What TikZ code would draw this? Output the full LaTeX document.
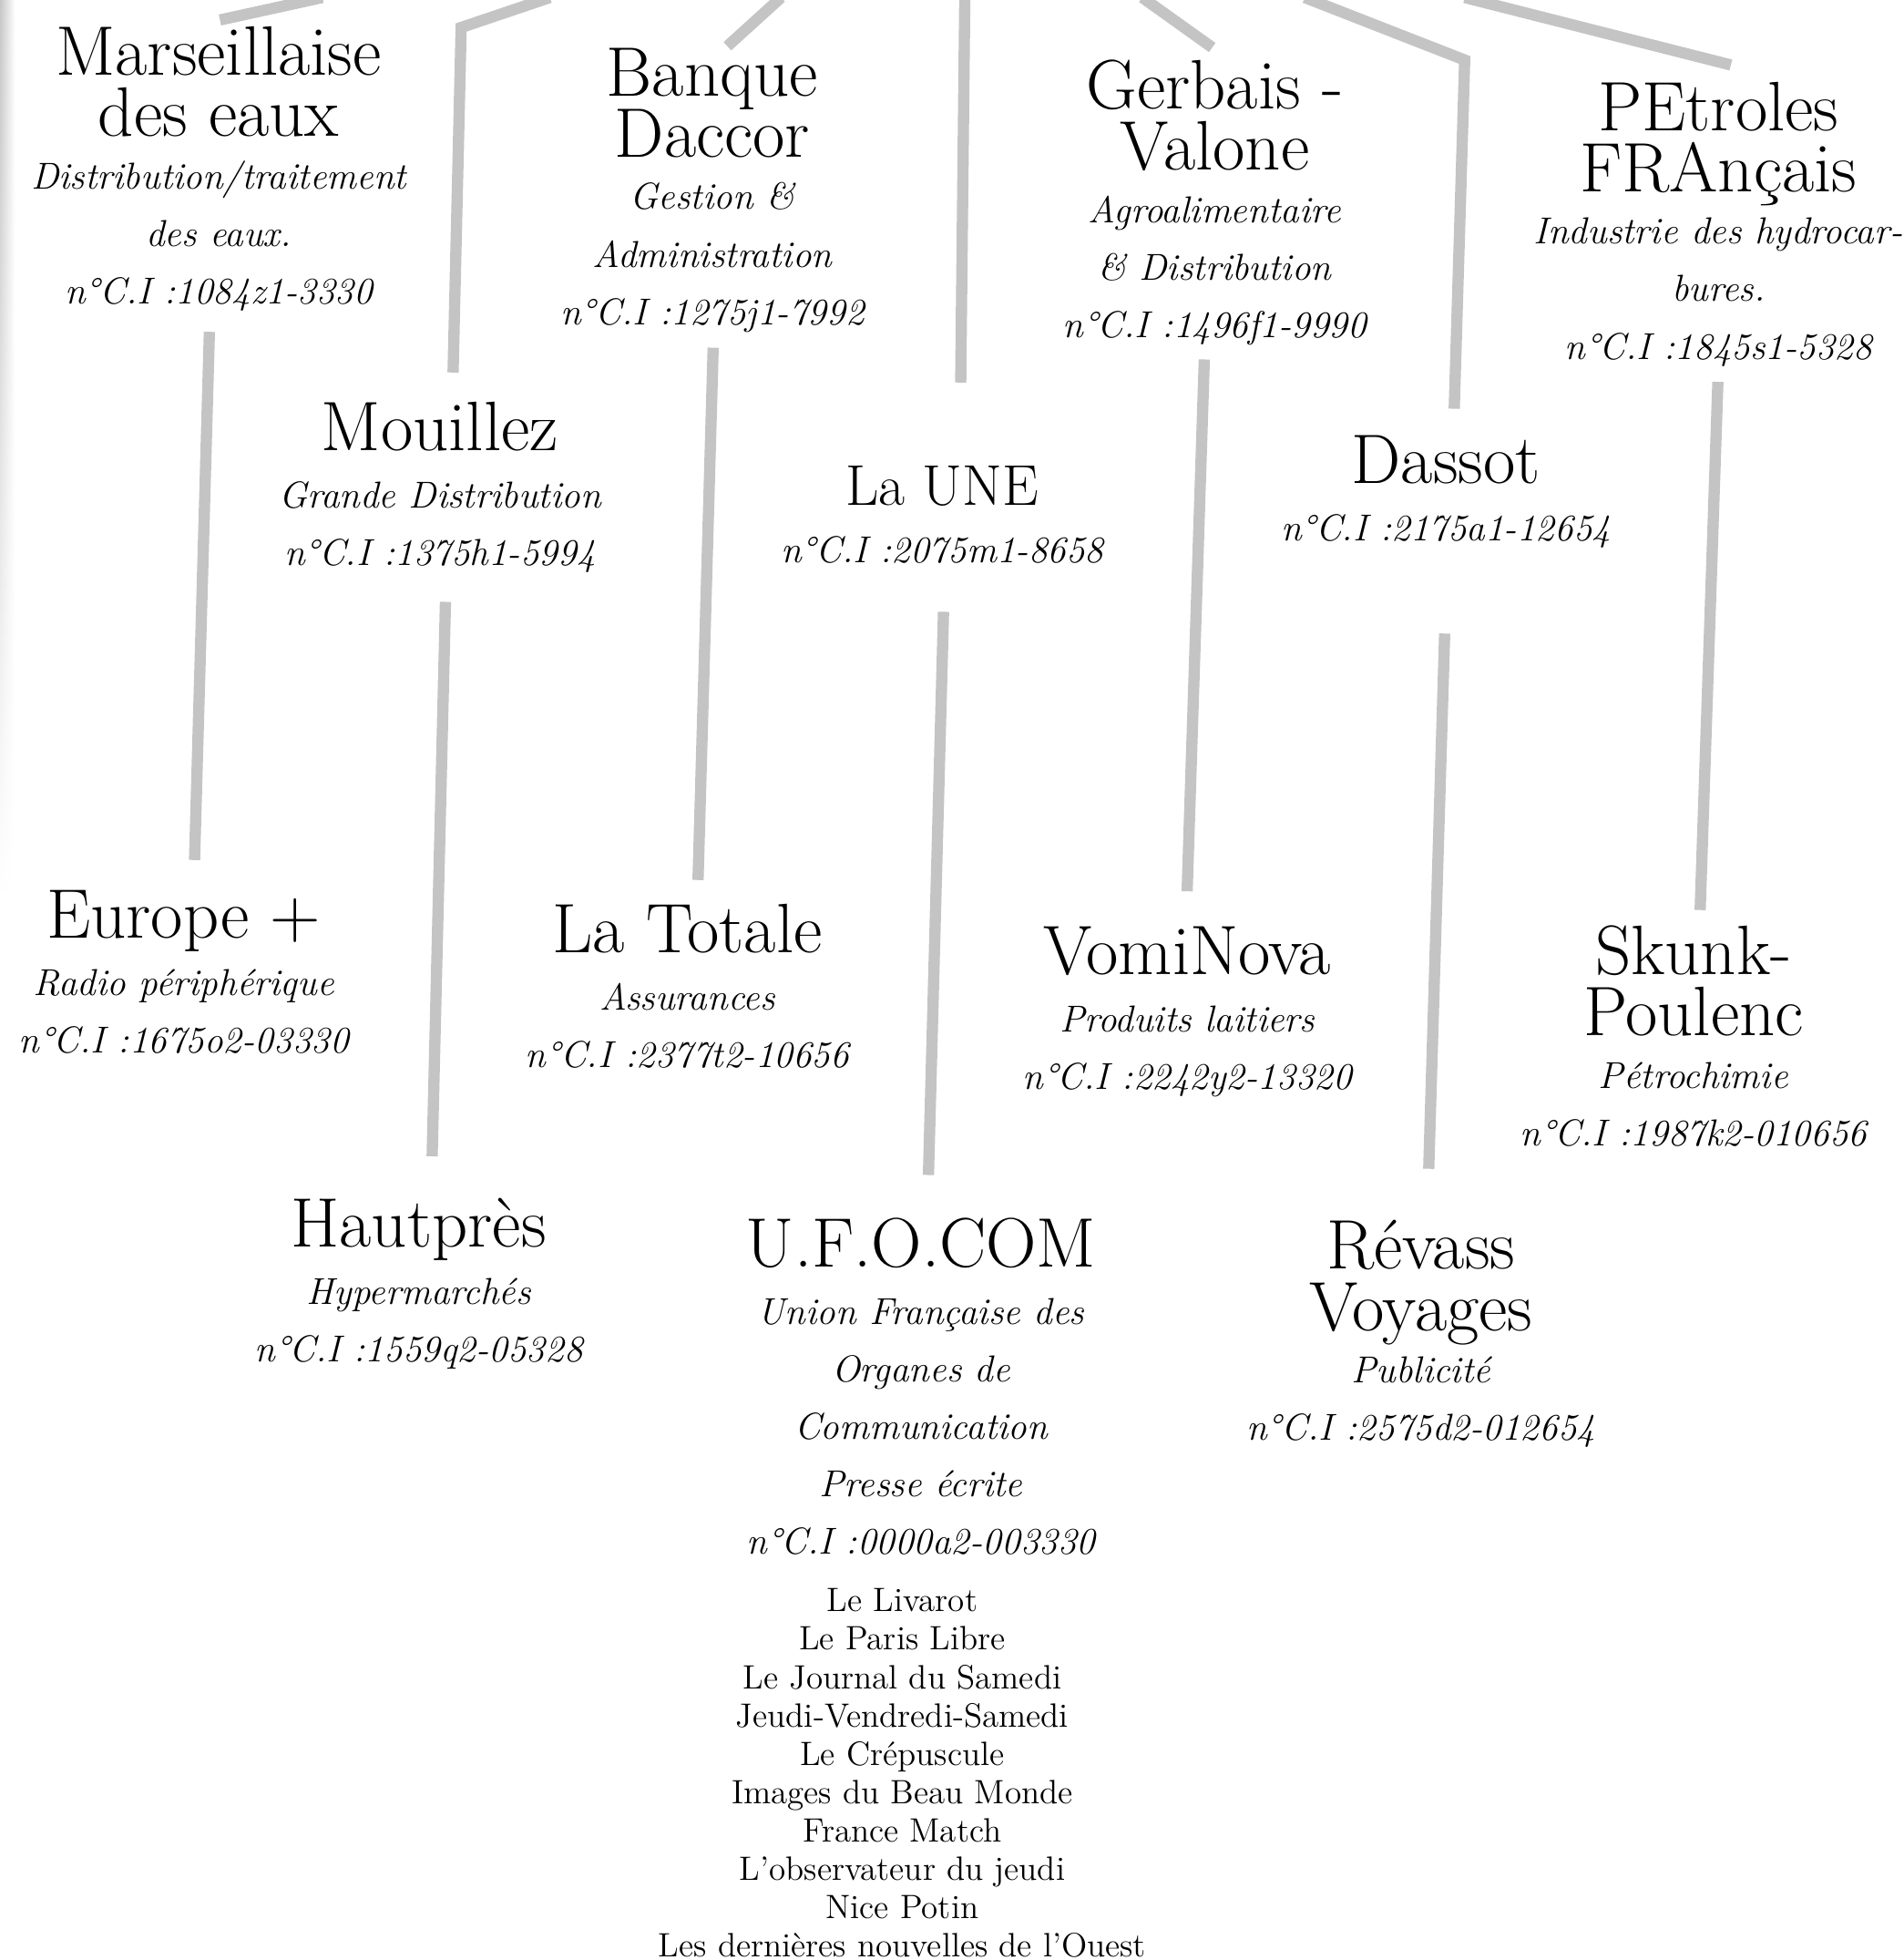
\documentclass[tikz,border=0pt]{standalone}
\usepackage{fontspec}
\usetikzlibrary{positioning,fadings}
\newcommand\serre{\lineskiplimit=-30pt\relax}
\begin{document}
\begin{tikzpicture}[x=0.5pt, y=-0.5pt,
	firme/.style={align=center, inner sep=0pt, anchor=north, font={\fontsize{15}{23}\selectfont\itshape\serre}},
	journaux/.style={align=center, inner sep=0pt, font={\fontsize{13.5}{15.35}\selectfont\serre}},
	lien/.style={draw=black!23, line width=4.5pt}]
	\def\nom#1{{\upshape\fontsize{28}{23}\selectfont #1}}
	\clip (0,0) rectangle (1523,1568);
	\shade[left color=black!22, right color=white, path fading=south] (0,0) rectangle (12,720);
	% premier rang
	\node[firme] (mars) at (175,21) {\nom{Marseillaise}\\[1.5pt]\nom{des eaux}\\[-2pt]Distribution/traitement\\des eaux.\\n°C.I :1084z1-3330};
	\node[firme] (banque) at (570,38) {\nom{Banque}\\[1.5pt]\nom{Daccor}\\[-2pt]Gestion \&\\Administration\\n°C.I :1275j1-7992};
	\node[firme] (gerbais) at (972,47.5) {\nom{Gerbais -}\\[1.5pt]\nom{Valone}\\[-2pt]Agroalimentaire\\\& Distribution\\n°C.I :1496f1-9990};
	\node[firme] (petroles) at (1375,65) {\nom{PEtroles}\\[1.5pt]\nom{FRAnçais}\\[-2pt]Industrie des hydrocar-\\bures.\\n°C.I :1845s1-5328};
	% second rang
	\node[firme] (mouillez) at (352,321) {\nom{Mouillez}\\Grande Distribution\\n°C.I :1375h1-5994};
	\node[firme] (laune) at (754,372.6) {{\upshape\fontsize{23}{23}\selectfont La UNE}\\n°C.I :2075m1-8658};
	\node[firme] (dassot) at (1157,348) {\nom{Dassot}\\n°C.I :2175a1-12654};
	% troisieme rang
	\node[firme] (europe) at (147,712) {\nom{Europe +}\\Radio périphérique\\n°C.I :1675o2-03330};
	\node[firme] (totale) at (550,723) {\nom{La Totale}\\Assurances\\n°C.I :2377t2-10656};
	\node[firme] (vomi) at (950,741) {\nom{VomiNova}\\Produits laitiers\\n°C.I :2242y2-13320};
	\node[firme] (skunk) at (1355,740) {\nom{Skunk-}\\[1.5pt]\nom{Poulenc}\\[-2pt]Pétrochimie\\n°C.I :1987k2-010656};
	% quatrieme rang
	\node[firme] (hautpres) at (335,958) {\nom{Hautprès}\\Hypermarchés\\n°C.I :1559q2-05328};
	\node[firme] (ufo) at (737,974) {\nom{U.F.O.COM}\\Union Française des\\Organes de\\Communication\\Presse écrite\\n°C.I :0000a2-003330};
	\node[firme] (revass) at (1137,976) {\nom{Révass}\\[1.5pt]\nom{Voyages}\\[-2pt]Publicité\\n°C.I :2575d2-012654};
	\node[journaux, below=13pt of ufo, xshift=-7.5pt] (titres) {Le Livarot\\Le Paris Libre\\Le Journal du Samedi\\Jeudi-Vendredi-Samedi\\Le Crépuscule\\Images du Beau Monde\\France Match\\L’observateur du jeudi\\Nice Potin\\Les dernières nouvelles de l’Ouest};
	% liens venant du haut
	\coordinate (m0) at (258,-2);
	\coordinate (k2) at (369,22);
	\coordinate (b0) at (625,-2);
	\coordinate (t4) at (772,-2);
	\coordinate (g0) at (914,-2);
	\coordinate (t6) at (1044,-2);
	\coordinate (k6) at (1172,48);
	\coordinate (p0) at (1172,-2);
	\draw[lien] (m0) -- ([xshift=0.5pt,yshift=2.5pt]mars.north);
	\draw[lien, shorten >=11.5pt] (440,-2) -- (k2) -- ([xshift=5pt]mouillez.north);
	\draw[lien] (b0) -- ([xshift=6pt,yshift=0.5pt]banque.north);
	\draw[lien, shorten >=33.3pt] (t4) -- ([xshift=7pt]laune.north);
	\draw[lien] (g0) -- ([xshift=-1pt,yshift=4.75pt]gerbais.north);
	\draw[lien, shorten >=10.5pt] (t6) -- (k6) -- ([xshift=3pt]dassot.north);
	\draw[lien] (p0) -- ([xshift=5pt,yshift=6.5pt]petroles.north);
	% liens entre les rangs
	\draw[lien, shorten <=8pt, shorten >=12pt] ([xshift=-3.5pt]mars.south) -- ([xshift=4pt]europe.north);
	\draw[lien, shorten <=6pt, shorten >=9.5pt] ([xshift=0.5pt]banque.south) -- ([xshift=4pt]totale.north);
	\draw[lien, shorten <=11.5pt, shorten >=16.5pt] ([xshift=2.5pt]mouillez.south) -- ([xshift=5pt]hautpres.north);
	\draw[lien, shorten <=19pt, shorten >=17pt] ([xshift=1pt]laune.south) -- ([xshift=2.5pt]ufo.north);
	\draw[lien, shorten <=5.5pt, shorten >=14pt] ([xshift=-4pt]gerbais.south) -- ([xshift=-0.5pt]vomi.north);
	\draw[lien, shorten <=34pt, shorten >=20.5pt] ([xshift=0.5pt]dassot.south) -- ([xshift=2.5pt]revass.north);
	\draw[lien, shorten <=6pt, shorten >=6pt] (petroles.south) -- ([xshift=2.5pt]skunk.north);
\end{tikzpicture}
\end{document}
